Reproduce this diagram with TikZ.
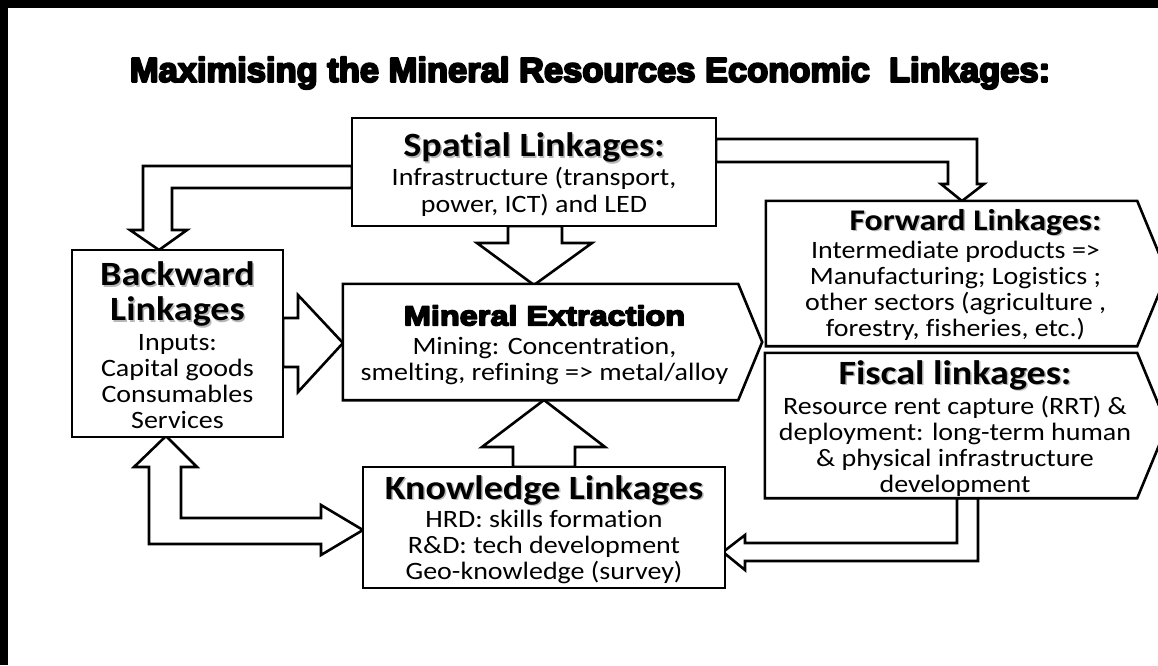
\documentclass[tikz,border=0pt]{standalone}
\usepackage{fontspec}
\setmainfont{Carlito}[FakeStretch=1.12, Ligatures=NoCommon]
\newfontfamily\titlefont{Liberation Sans}[FakeBold=6]
\newfontfamily\heavyfont{Liberation Sans}[FakeBold=6, FakeStretch=1.18]
\usetikzlibrary{calc,backgrounds}

% bold heading with a faint drop shadow
\newcommand\headtext[2][34]{{\fontsize{#1}{36}\selectfont\bfseries
  \makebox[0pt][l]{\raisebox{-1.5pt}{\hspace{1.5pt}\color{black!28}#2}}#2}}
\newcommand\heavytext[1]{{\heavyfont\bfseries\fontsize{27.5}{30}\selectfont #1}}

\tikzset{
  outline/.style={draw=black, line width=2.6pt, fill=white, line join=miter},
  boxtext/.style={align=center, inner sep=0pt, font=\fontsize{25}{26}\selectfont},
  rectbox/.style={draw=black, line width=2.6pt, fill=white, inner sep=0pt},
  plainbox/.style={inner sep=0pt},
}

\begin{document}
\begin{tikzpicture}[x=1pt,y=-1pt]
\useasboundingbox (0,0) rectangle (1158,665);

% title
\node[line join=round, font=\titlefont\bfseries\fontsize{34.5}{38}\selectfont] (title) at (590,73)
  {Maximising the Mineral Resources Economic\ \ Linkages:};

% box outlines (rectangles) and frames for the pointed boxes
\node[rectbox, minimum width=364pt, minimum height=108pt] (sp) at (534,172) {};
\node[rectbox, minimum width=211pt, minimum height=187pt] (bw) at (177.5,343.5) {};
\node[rectbox, minimum width=362pt, minimum height=121pt] (kn) at (544,527.5) {};
\node[plainbox, minimum width=395pt, minimum height=116pt] (mn) at (540.5,342) {};
\node[plainbox, minimum width=371pt, minimum height=145pt] (fw) at (951.5,273.5) {};
\node[plainbox, minimum width=372pt, minimum height=145pt] (fs) at (951,425.5) {};

% box texts
\node[boxtext] (sp-text) at ($(sp.center)+(0,3)$)
  {\headtext{Spatial Linkages:}\\[3pt]Infrastructure (transport,\\[1pt]power, ICT) and LED};
\node[boxtext] (bw-text) at ($(bw.center)+(0,2)$)
  {\headtext{Backward}\\[9pt]\headtext{Linkages}\\[4pt]Inputs:\\Capital goods\\Consumables\\Services};
\node[boxtext] (kn-text) at ($(kn.center)+(0,2)$)
  {\headtext{Knowledge Linkages}\\[2pt]HRD: skills formation\\R\&D: tech development\\Geo-knowledge (survey)};
\node[boxtext, line join=round] (mn-text) at ($(mn.center)+(4,3)$)
  {\heavytext{Mineral Extraction}\\[3pt]Mining: Concentration,\\smelting, refining => metal/alloy};
\node[boxtext] (fw-text) at ($(fw.center)+(4,1)$)
  {\hspace*{40pt}\headtext[30]{Forward Linkages:}\\[2pt]Intermediate products =>\\Manufacturing; Logistics ;\\other sectors (agriculture ,\\forestry, fisheries, etc.)};
\node[boxtext] (fs-text) at ($(fs.center)+(4,3)$)
  {\headtext{Fiscal linkages:}\\[4pt]Resource rent capture (RRT) \&\\deployment: long-term human\\\& physical infrastructure\\development};

\begin{scope}[on background layer]
  \fill[white] (0,0) rectangle (1158,665);
  % frame edges
  \fill[black] (0,0) rectangle (1158,8);
  \fill[black] (0,0) rectangle (8,665);

  % spatial -> backward
  \draw[outline] (352,166) -- (143,166) -- (143,230) -- (130,230) -- (159,250)
    -- (187,230) -- (172,230) -- (172,188) -- (352,188) -- cycle;
  % spatial -> mineral extraction
  \draw[outline] (508,226) -- (508,243) -- (477,243) -- (534,285) -- (592,243)
    -- (562,243) -- (562,226) -- cycle;
  % spatial -> forward
  \draw[outline] (716,139) -- (977,139) -- (977,184) -- (984,184) -- (962,201)
    -- (941,184) -- (948,184) -- (948,162) -- (716,162) -- cycle;
  % backward -> mineral extraction
  \draw[outline] (283,318) -- (298,318) -- (298,295) -- (343,343) -- (298,392)
    -- (298,367) -- (283,367) -- cycle;
  % knowledge -> mineral extraction
  \draw[outline] (513,467) -- (513,447) -- (482,447) -- (544,400) -- (605,447)
    -- (575,447) -- (575,467) -- cycle;
  % backward <-> knowledge
  \draw[outline] (166,436) -- (197,467) -- (181,467) -- (181,518) -- (321,518)
    -- (321,505) -- (363,530) -- (321,555) -- (321,544) -- (149,544)
    -- (149,467) -- (134,467) -- cycle;
  % fiscal -> knowledge
  \draw[outline] (957,498) -- (957,543) -- (745,543) -- (745,535) -- (723,552)
    -- (745,570) -- (745,561) -- (978,561) -- (978,498) -- cycle;

  % pointed boxes
  \draw[outline] (mn.north west) -- (mn.north east) -- ($(mn.east)+(24,0)$)
    -- (mn.south east) -- (mn.south west) -- cycle;
  \draw[outline] (fw.north west) -- (fw.north east) -- ($(fw.east)+(30,0)$)
    -- (fw.south east) -- (fw.south west) -- cycle;
  \draw[outline] (fs.north west) -- (fs.north east) -- ($(fs.east)+(30,0)$)
    -- (fs.south east) -- (fs.south west) -- cycle;
\end{scope}
\end{tikzpicture}
\end{document}
